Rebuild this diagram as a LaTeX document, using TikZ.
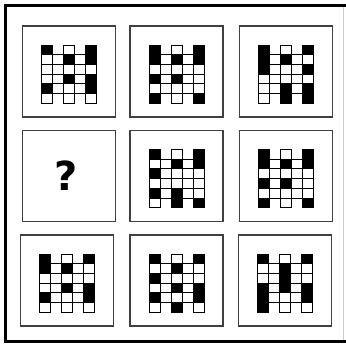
\documentclass[tikz,border=0pt]{standalone}
\usepackage{fontspec}
\newfontfamily\qfont{DejaVu Sans}
\newcommand{\mygrid}[4]{%
  \begin{scope}[shift={(#1.center)}]
    \foreach \k in {1,3}{
      \foreach \r in {1,...,4}{
        \draw[cellline,fill=white] (-27.5+11*\k,-26.5+9.7*\r) rectangle ++(11,9.7);
      }
    }
    \foreach \v [count=\r from 0] in {#2}{
      \ifnum\v=1 \def\cc{black}\else\def\cc{white}\fi
      \draw[cellline,fill=\cc] (-27.5,-26.5+9.7*\r) rectangle ++(11,9.7);
    }
    \foreach \v [count=\r from 0] in {#3}{
      \ifnum\v=1 \def\cc{black}\else\def\cc{white}\fi
      \draw[cellline,fill=\cc] (-5.5,-26.5+9.7*\r) rectangle ++(11,9.7);
    }
    \foreach \v [count=\r from 0] in {#4}{
      \ifnum\v=1 \def\cc{black}\else\def\cc{white}\fi
      \draw[cellline,fill=\cc] (16.5,-26.5+9.7*\r) rectangle ++(11,9.7);
    }
  \end{scope}}
\begin{document}
\begin{tikzpicture}[x=1pt,y=-1pt,
  panel/.style={draw=black!75,line width=1.1pt,minimum width=93pt,minimum height=91pt,inner sep=0pt,fill=white},
  cellline/.style={draw=black,line width=0.9pt}]
\useasboundingbox (0,0) rectangle (346,345);
\fill[white] (0,0) rectangle (346,345);
% outer frame
\draw[black!20,line width=0.8pt] (343,5.5) -- (343,341.5);
\draw[black,line width=3.8pt] (346,5.5) -- (5.5,5.5) -- (5.5,341.5) -- (346,341.5);
% panels
\node[panel] (p11) at (69,71.5) {};
\node[panel] (p12) at (176.5,71.5) {};
\node[panel] (p13) at (286,71.5) {};
\node[panel] (p21) at (69,176) {};
\node[panel] (p22) at (176.5,176) {};
\node[panel] (p23) at (286,176) {};
\node[panel] (p31) at (67,280.5) {};
\node[panel] (p32) at (176.5,280.5) {};
\node[panel] (p33) at (285,280.5) {};
% question mark
\node[font=\qfont\bfseries\fontsize{40}{40}\selectfont,inner sep=0pt] (q) at ([xshift=-3pt]p21.center) {?};
% patterns
\mygrid{p11}{1,0,0,0,1,0}{0,1,0,1,0,0}{1,1,0,1,1,0}
\mygrid{p12}{1,1,0,1,0,1}{0,1,0,1,0,0}{1,1,0,0,0,1}
\mygrid{p13}{1,1,1,0,0,0}{0,1,0,0,1,1}{1,0,1,0,1,1}
\mygrid{p22}{1,0,1,0,1,0}{0,1,0,0,1,1}{1,1,0,0,0,1}
\mygrid{p23}{1,1,0,1,0,1}{0,1,0,1,0,0}{1,1,0,0,0,1}
\mygrid{p31}{1,1,0,0,1,0}{0,1,0,1,0,0}{1,0,0,1,1,0}
\mygrid{p32}{1,0,1,0,1,0}{0,1,0,1,0,1}{1,0,0,1,1,0}
\mygrid{p33}{1,0,0,1,1,1}{0,1,1,1,0,0}{1,0,0,1,1,0}
\end{tikzpicture}
\end{document}
